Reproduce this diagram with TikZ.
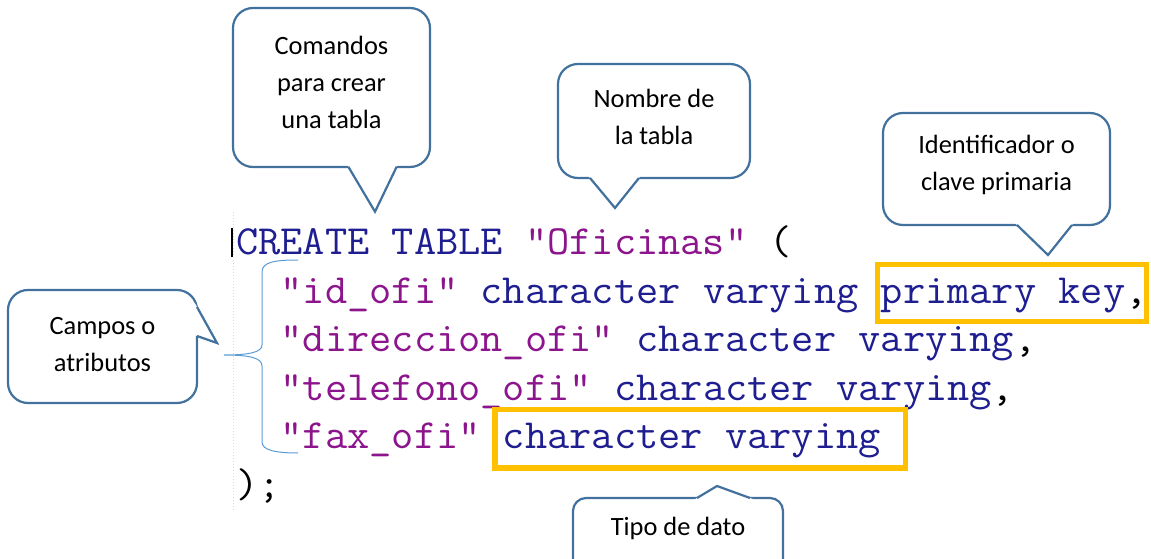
\documentclass[tikz,border=0pt]{standalone}
\usepackage{fontspec}
\setmainfont{Carlito}
\newfontfamily\codefont{Latin Modern Mono}[FakeStretch=1.04]
\usetikzlibrary{calc}
\definecolor{callline}{HTML}{41719C}
\definecolor{bracecol}{HTML}{5B9BD5}
\definecolor{hl}{HTML}{FFC000}
\definecolor{kw}{RGB}{30,30,145}
\definecolor{str}{RGB}{140,20,140}
\tikzset{
  note/.style={font=\fontsize{26.4}{37}\selectfont, align=center, text=black, inner sep=0pt},
  bubble/.style={draw=callline, line width=2.2pt, fill=white, rounded corners=20pt},
  tail/.style={draw=callline, line width=2.2pt, line join=miter},
  code/.style={anchor=base west, inner sep=0pt, font=\fontsize{41.5}{48}\selectfont\codefont},
  hlbox/.style={draw=hl, line width=5.5pt},
  brace/.style={draw=bracecol, line width=1pt},
}
% pointer of a speech bubble: base point, tip, base point
\newcommand\bubbletail[3]{%
  \fill[white] ($#1!-5pt!#2$) -- #2 -- ($#3!-5pt!#2$) -- cycle;
  \draw[tail] #1 -- #2 -- #3;}
\begin{document}
\begin{tikzpicture}[x=1pt,y=-1pt]
\useasboundingbox (0,0) rectangle (1151,559);
\clip (0,0) rectangle (1151,559);

% editor margin and cursor
\draw[gray!30, dotted, line width=1pt] (233,212) -- (233,512);
\draw[black, line width=2pt] (232,228) -- (232,257);

% SQL code
\node[code] (l1) at (236,254) {\textcolor{kw}{CREATE TABLE} \textcolor{str}{"Oficinas"} (};
\node[code] (l2) at (280.5,303) {\textcolor{str}{"id\_ofi"} \textcolor{kw}{character varying primary key},};
\node[code] (l3) at (280.5,351.5) {\textcolor{str}{"direccion\_ofi"} \textcolor{kw}{character varying},};
\node[code] (l4) at (280.5,400) {\textcolor{str}{"telefono\_ofi"} \textcolor{kw}{character varying},};
\node[code] (l5) at (280.5,448.5) {\textcolor{str}{"fax\_ofi"} \textcolor{kw}{character varying}};
\node[code] (l6) at (236,497) {);};

% highlighted parts
\draw[hlbox] (877.5,264.7) rectangle (1146.7,321.7);
\draw[hlbox] (495,409.7) rectangle (905.5,468);

% brace grouping the fields
\draw[brace] (298,260) .. controls (275,260) and (262,262) .. (262,272)
  -- (262,345) .. controls (262,352) and (250,355) .. (224,355)
  .. controls (250,355) and (262,358) .. (262,366)
  -- (262,442) .. controls (262,450) and (275,453) .. (298,453);

% bubble: create commands
\draw[bubble] (233,8) rectangle (430,167);
\bubbletail{(348.3,166.7)}{(375,211.7)}{(396.7,166.7)}
\node[note] (cmd) at (331.5,82.5) {Comandos\\para crear\\una tabla};

% bubble: table name
\draw[bubble] (558,64) rectangle (750,178);
\bubbletail{(590,178)}{(615,208)}{(639,178)}
\node[note] (name) at (654,117) {Nombre de\\la tabla};

% bubble: primary key
\draw[bubble] (883,113) rectangle (1110,225);
\bubbletail{(1017,225)}{(1048,255)}{(1072,225)}
\node[note] (pk) at (996.5,165) {Identificador o\\clave primaria};

% bubble: fields
\draw[bubble] (8,290) rectangle (197,403);
\bubbletail{(197,307)}{(217,343)}{(197,336)}
\node[note] (fields) at (102.5,345) {Campos o\\atributos};

% bubble: data type
\draw[bubble, rounded corners=13pt] (573,498) rectangle (783,580);
\bubbletail{(697,498)}{(717,486)}{(750,498)}
\node[note] (type) at (678,528) {Tipo de dato};
\end{tikzpicture}
\end{document}
